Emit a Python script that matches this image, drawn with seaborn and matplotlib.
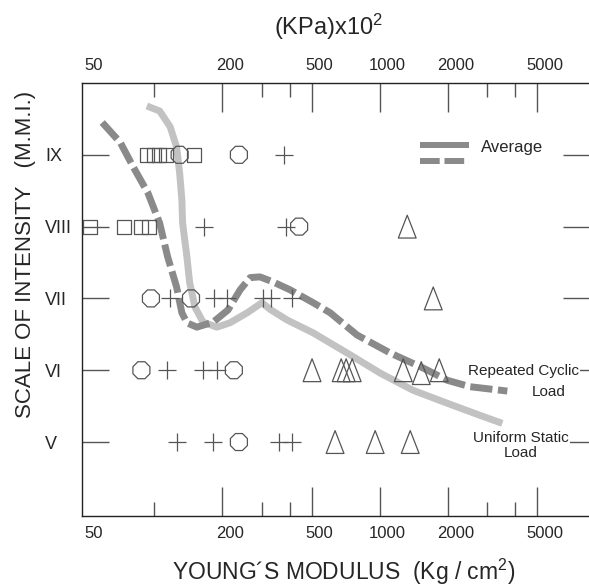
import seaborn as sns
import matplotlib.pyplot as plt
from matplotlib.lines import Line2D
from matplotlib.path import Path
from matplotlib.legend_handler import HandlerBase
from matplotlib.ticker import FixedLocator, NullFormatter
from matplotlib.transforms import ScaledTranslation

sns.set_style("white")
plt.rcParams["font.family"] = ["Liberation Sans", "DejaVu Sans"]
plt.rcParams["mathtext.fontset"] = "custom"
plt.rcParams["mathtext.rm"] = "Liberation Sans"
plt.rcParams["mathtext.it"] = "Liberation Sans:italic"
plt.rcParams["mathtext.bf"] = "Liberation Sans:bold"

sq_x = [93, 100, 105, 113, 150, 52, 74, 88, 95]
sq_y = [9, 9, 9, 9, 9, 8, 8, 8, 8]
oct_x = [130, 238, 440, 97, 146, 88, 226, 238]
oct_y = [9, 9, 8, 7, 7, 6, 6, 5]
plus_x = [377, 167, 385, 118, 185, 211, 304, 330, 410, 114, 165, 190, 126, 183, 359, 410]
plus_y = [9, 8, 8, 7, 7, 7, 7, 7, 7, 6, 6, 6, 5, 5, 5, 5]
tri_x = [1326, 1729, 502, 676, 711, 756, 1273, 1530, 1838, 635, 956, 1367]
tri_y = [8, 7, 6, 6, 6, 6, 6, 5.96, 6, 5, 5, 5]

# Average curves
cyc_x = [59, 71, 81, 94, 106, 115, 126, 133, 140, 155, 183, 213, 241, 267, 295,
         337, 401, 508, 604, 795, 1114, 1561, 1995, 2523, 3682]
cyc_y = [9.45, 9.17, 8.83, 8.47, 8.05, 7.58, 7.16, 6.80, 6.66, 6.60, 6.67, 6.84,
         7.12, 7.29, 7.30, 7.23, 7.12, 6.94, 6.80, 6.49, 6.24, 6.03, 5.86, 5.77, 5.71]
sta_x = [93, 106, 118, 126, 130, 133, 134, 140, 144, 152, 165, 190, 217, 259, 301,
         330, 389, 508, 718, 1006, 1409, 1995, 2795, 3499]
sta_y = [9.68, 9.61, 9.39, 9.11, 8.75, 8.37, 8.05, 7.58, 7.22, 6.88, 6.67, 6.60,
         6.66, 6.80, 6.94, 6.84, 6.70, 6.52, 6.24, 5.96, 5.72, 5.54, 5.37, 5.26]

x_major = [50, 200, 500, 1000, 2000, 5000]
x_minor = [100, 300, 400, 3000, 4000]
y_ticks = [5, 6, 7, 8, 9]
y_labels = ["V", "VI", "VII", "VIII", "IX"]

mk = "#555555"
c_cyc = "#8a8a8a"
c_sta = "#c2c2c2"

fig = plt.figure(figsize=(5.89, 5.87), dpi=100)
ax = fig.add_axes([82 / 589, 71 / 587, 508 / 589, 433 / 587])
ax.set_xscale("log")

# curves
sns.lineplot(x=sta_x, y=sta_y, sort=False, estimator=None, color=c_sta, lw=5,
             solid_capstyle="butt", ax=ax, zorder=2)
sns.lineplot(x=cyc_x, y=cyc_y, sort=False, estimator=None, color=c_cyc, lw=5,
             linestyle=(0, (3.2, 0.8)), dash_capstyle="butt", ax=ax, zorder=3)

# markers
tri = Path([(0, 1), (-0.78, -1), (0.78, -1), (0, 1)], closed=True)
sns.scatterplot(x=sq_x, y=sq_y, marker="s", s=100, facecolor="none", edgecolor=mk,
                linewidth=0.9, ax=ax, zorder=4)
sns.scatterplot(x=oct_x, y=oct_y, marker="8", s=175, facecolor="none", edgecolor=mk,
                linewidth=0.9, ax=ax, zorder=4)
sns.scatterplot(x=plus_x, y=plus_y, marker="+", s=175, color=mk,
                linewidth=0.9, ax=ax, zorder=4)
sns.scatterplot(x=tri_x, y=tri_y, marker=tri, s=270, facecolor="none", edgecolor=mk,
                linewidth=0.9, ax=ax, zorder=4)

ax.set_xlim(48, 8560)
ax.set_ylim(3.97, 10.0)

ax.xaxis.set_major_locator(FixedLocator(x_major))
ax.set_xticks(x_major, labels=[str(v) for v in x_major])
ax.xaxis.set_minor_locator(FixedLocator(x_minor))
ax.xaxis.set_minor_formatter(NullFormatter())
ax.set_yticks(y_ticks, labels=y_labels)

ax.tick_params(axis="x", which="both", direction="in", top=True, bottom=True,
               labeltop=True, labelbottom=True, color=mk, width=1, pad=7, labelsize=12)
ax.tick_params(axis="x", which="major", length=21)
ax.tick_params(axis="x", which="minor", length=10)
ax.tick_params(axis="y", which="major", direction="in", left=True, right=True,
               length=19.5, color=mk, width=1, pad=26.6, labelsize=13)
ax.tick_params(axis="y", which="minor", left=False, right=False)
for lab in ax.get_yticklabels():
    lab.set_horizontalalignment("left")

# no tick line at 50, labels sit a bit right of ticks
t0 = ax.xaxis.get_major_ticks()[0]
t0.tick1line.set_visible(False)
t0.tick2line.set_visible(False)
off = ScaledTranslation(0.08, 0, fig.dpi_scale_trans)
for t in ax.xaxis.get_major_ticks():
    t.label1.set_transform(t.label1.get_transform() + off)
    t.label2.set_transform(t.label2.get_transform() + off)

for s in ["left", "top", "bottom"]:
    ax.spines[s].set_color("#222222")
    ax.spines[s].set_linewidth(1)
ax.spines["right"].set_visible(False)

# legend
class DoubleBar(HandlerBase):
    def create_artists(self, legend, orig_handle, xdescent, ydescent, width, height, fontsize, trans):
        x0, x1 = -xdescent, -xdescent + width
        ym = height / 2 - ydescent
        top = Line2D([x0, x1], [ym + 1, ym + 1], color=c_cyc, lw=4.3,
                     solid_capstyle="butt", transform=trans)
        bot = Line2D([x0, x1], [ym - 10, ym - 10], color=c_cyc, lw=4.3,
                     linestyle=(0, (3.3, 0.8)), dash_capstyle="butt", transform=trans)
        return [top, bot]

h = Line2D([], [], color=c_cyc)
ax.legend(handles=[h], labels=["Average"], handler_map={h: DoubleBar()},
          loc="center left", bbox_to_anchor=(0.666, 0.850), frameon=False,
          borderpad=0, borderaxespad=0, handlelength=2.94, handletextpad=0.72,
          fontsize=12)

box = dict(boxstyle="square,pad=0.1", fc="white", ec="none")
ax.text(4340, 5.99, "Repeated Cyclic", ha="center", va="center", fontsize=11, bbox=box, zorder=5)
ax.text(5600, 5.70, "Load", ha="center", va="center", fontsize=11, bbox=box, zorder=5)
ax.text(4210, 4.95, "Uniform Static\nLoad", ha="center", va="center", fontsize=11,
        linespacing=1.1, bbox=box, zorder=5)

ax.set_ylabel("SCALE OF INTENSITY   (M.M.I.)", fontsize=16)
ax.yaxis.set_label_coords(-0.0907, 0.603)
ax.set_xlabel("YOUNG\u00b4S MODULUS  (Kg / cm$^2$)", fontsize=16.5)
ax.xaxis.set_label_coords(0.516, -0.094)
fig.text(0.5586, 0.954, "(KPa)x10$^2$", ha="center", va="center", fontsize=17)

fig.savefig("out.png", dpi=100)
